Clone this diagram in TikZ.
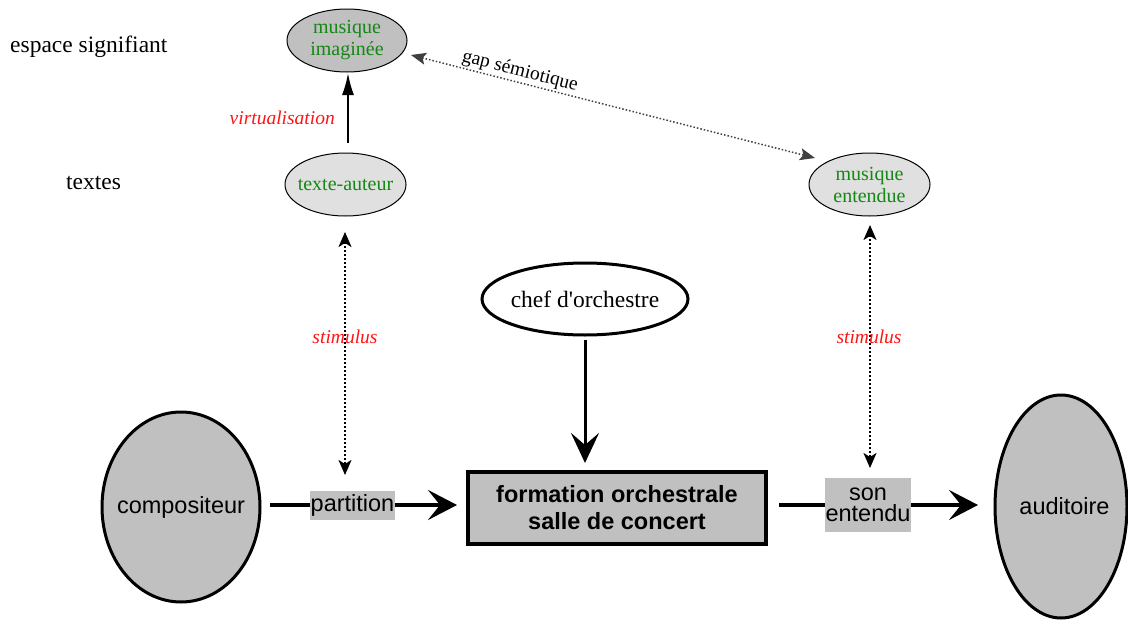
\documentclass[tikz,border=0pt]{standalone}
\usepackage{fontspec}
\setmainfont{Liberation Serif}
\setsansfont{Liberation Sans}
\newfontfamily\plainserif{Liberation Serif}
\usetikzlibrary{shapes.geometric,arrows.meta}
\definecolor{fillgray}{RGB}{192,192,192}
\definecolor{lightgray}{RGB}{224,224,224}
\definecolor{txtgreen}{RGB}{20,135,20}
\definecolor{txtred}{RGB}{255,20,20}
\definecolor{gapgray}{RGB}{64,64,64}
\tikzset{
  thinov/.style={ellipse, draw=black, line width=1pt, inner sep=0pt},
  greentext/.style={text=txtgreen, align=center, inner sep=0pt, font=\fontsize{20}{22}\selectfont},
  bigov/.style={ellipse, draw=black, line width=3pt, fill=fillgray, inner sep=0pt},
  sanstext/.style={inner sep=0pt, font=\sffamily\fontsize{23.5}{25}\selectfont},
  sidelabel/.style={anchor=base west, inner sep=0pt, font=\fontsize{23.5}{25}\selectfont},
  redlabel/.style={text=txtred, inner sep=0pt, font=\itshape\fontsize{19.5}{21}\selectfont},
  flowlabel/.style={fill=fillgray, inner sep=0pt, align=center,
    font=\sffamily\fontsize{23.5}{21}\selectfont},
  bigarrow/.style={line width=4pt, -{Stealth[length=29pt,width=30pt,inset=12pt]}},
  stimarrow/.style={line width=2pt, dotted, {Stealth[length=15pt,width=13pt,inset=4pt]}-{Stealth[length=15pt,width=13pt,inset=4pt]}},
}
\begin{document}
\begin{tikzpicture}[x=1pt,y=-1pt]
\useasboundingbox (0,0) rectangle (1128,621);

% side labels
\node[sidelabel] (esp) at (10,52) {espace signifiant};
\node[sidelabel] (txt) at (66,189) {textes};

% upper ellipses
\node[thinov, fill=fillgray, minimum width=120pt, minimum height=63pt,
  label={[greentext]center:musique\\imaginée}] (mi) at (347,40.5) {};
\node[thinov, fill=lightgray, minimum width=121pt, minimum height=63pt,
  label={[greentext]center:texte-auteur}] (ta) at (345.5,184.5) {};
\node[thinov, fill=lightgray, minimum width=121pt, minimum height=63pt,
  label={[greentext]center:musique\\entendue}] (me) at (869.5,184.5) {};

% chef
\node[ellipse, draw=black, line width=3pt, fill=white, inner sep=0pt,
  minimum width=206pt, minimum height=72pt,
  label={[inner sep=0pt, font=\plainserif\fontsize{23.5}{25}\selectfont]center:chef d'orchestre}] (chef) at (585,299) {};

% bottom row
\node[bigov, minimum width=158pt, minimum height=190pt,
  label={[sanstext]center:compositeur}] (comp) at (181,507) {};
\node[bigov, minimum width=132pt, minimum height=223pt] (aud) at (1061,506.5) {};
\node[sanstext] (audt) at (1064.5,506) {auditoire};
\node[draw=black, line width=4pt, fill=fillgray, minimum width=298pt, minimum height=72pt,
  align=center, font=\sffamily\bfseries\fontsize{23.5}{27}\selectfont] (form) at (617,507.5) {formation orchestrale\\salle de concert};

\node[flowlabel, minimum width=85pt, minimum height=29pt] (part) at (352.5,505) {partition};
\node[flowlabel, minimum width=86pt, minimum height=54pt] (son) at (868,505) {son\\entendu};

% horizontal arrows
\coordinate (c1) at (270,505);
\coordinate (c2) at (457,505);
\coordinate (c3) at (779,505);
\coordinate (c4) at (978,505);
\draw[line width=4pt] (c1) -- (part.west);
\draw[bigarrow] (part.east) -- (c2);
\draw[line width=4pt] (c3) -- (son.west);
\draw[bigarrow] (son.east) -- (c4);

% chef arrow
\coordinate (ch1) at (585,340);
\coordinate (ch2) at (585,463);
\draw[line width=3pt, -{Stealth[length=30pt,width=28pt,inset=12pt]}] (ch1) -- (ch2);

% virtualisation
\coordinate (v1) at (348,143);
\coordinate (v2) at (348,73);
\draw[line width=2pt, -{Latex[length=22pt,width=12pt]}] (v1) -- (v2);
\node[redlabel, anchor=east] (virt) at (335,118) {virtualisation};

% stimulus lines
\coordinate (s1a) at (345,232);
\coordinate (s1b) at (345,475);
\coordinate (s2a) at (870,225);
\coordinate (s2b) at (870,468);
\draw[stimarrow] (s1a) -- (s1b);
\draw[stimarrow] (s2a) -- (s2b);
\node[redlabel] (st1) at (345,337) {stimulus};
\node[redlabel] (st2) at (869,337) {stimulus};

% gap semiotique
\coordinate (g1) at (411,55);
\coordinate (g2) at (815,158);
\draw[gapgray, line width=1.5pt, dotted, {Stealth[length=15pt,width=12pt,inset=3pt]}-{Stealth[length=15pt,width=12pt,inset=3pt]}] (g1) -- (g2);
\node[rotate=-14.3, inner sep=0pt, font=\fontsize{19.5}{21}\selectfont] (gap) at (520,71.5) {gap sémiotique};
\end{tikzpicture}
\end{document}
